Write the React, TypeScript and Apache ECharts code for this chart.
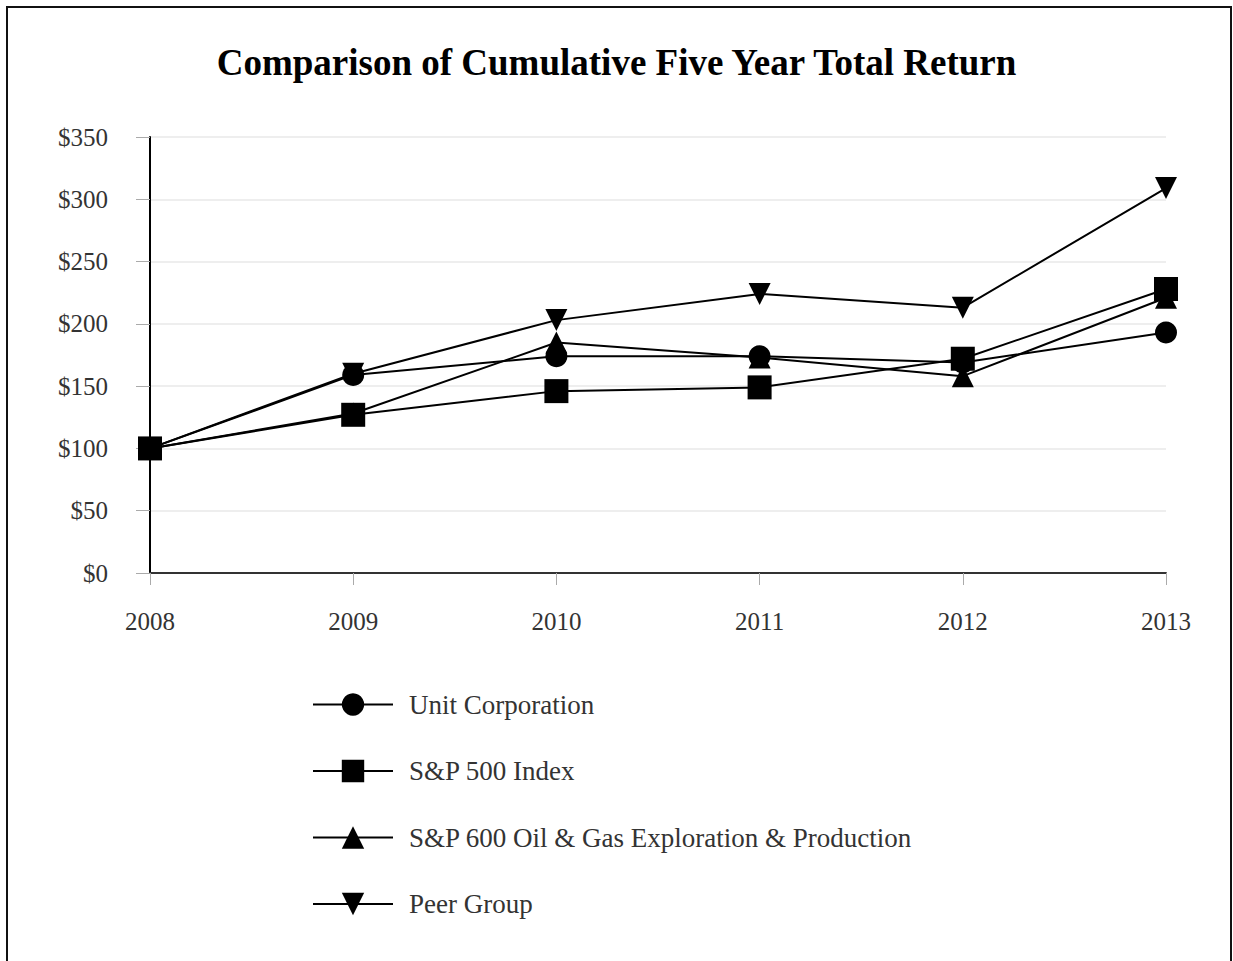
import React, { useEffect, useRef } from "react";
import * as echarts from "echarts";

const years = ["2008", "2009", "2010", "2011", "2012", "2013"];
const unitCorp = [100, 159, 174, 174, 169, 193];
const sp500 = [100, 127, 146, 149, 172, 228];
const sp600 = [100, 128, 185, 173, 158, 221];
const peerGroup = [100, 160, 203, 224, 213, 309];
const seriesNames = [
  "Unit Corporation",
  "S&P 500 Index",
  "S&P 600 Oil & Gas Exploration & Production",
  "Peer Group",
];

const SERIF = "'Liberation Serif', 'Times New Roman', serif";

export default function App() {
  const ref = useRef<HTMLDivElement>(null);
  useEffect(() => {
    if (!ref.current) return;
    const chart = echarts.init(ref.current, null, { renderer: "svg" });
    const lineStyle = { color: "#000", width: 2 };
    const mk = (name: string, data: number[], symbol: string, size: number, rotate = 0) => ({
      name,
      type: "line",
      data,
      symbol,
      symbolSize: size,
      symbolRotate: rotate,
      showAllSymbol: true,
      lineStyle,
      itemStyle: { color: "#000", borderWidth: 0 },
      z: 3,
    });
    chart.setOption({
      animation: false,
      backgroundColor: "#fff",
      title: {
        text: "Comparison of Cumulative Five Year Total Return",
        left: "center",
        top: 39,
        textStyle: { fontFamily: SERIF, fontWeight: "bold", fontSize: 37, color: "#000" },
      },
      graphic: [
        {
          type: "polyline",
          shape: { points: [[7, 970], [7, 7], [1231, 7], [1231, 970]] },
          style: { stroke: "#111", lineWidth: 2, fill: "none" },
          silent: true,
          z: 10,
        },
      ],
      legend: {
        orient: "vertical",
        left: 307,
        top: 686,
        itemWidth: 80,
        itemHeight: 28,
        itemGap: 39.5,
        data: seriesNames,
        textStyle: { fontFamily: SERIF, fontSize: 27, color: "#333", padding: [0, 0, 0, 11] },
      },
      grid: { left: 150, right: 67, top: 137, bottom: 388, containLabel: false },
      xAxis: {
        type: "category",
        data: years,
        boundaryGap: false,
        axisLine: { lineStyle: { color: "#333", width: 2 } },
        axisTick: { show: true, length: 12, lineStyle: { color: "#aaa" } },
        axisLabel: { fontFamily: SERIF, fontSize: 25, color: "#333", margin: 36 },
      },
      yAxis: {
        type: "value",
        min: 0,
        max: 350,
        interval: 50,
        axisLine: { show: true, lineStyle: { color: "#000", width: 2 } },
        axisTick: { show: true, length: 14, lineStyle: { color: "#aaa" } },
        splitLine: { lineStyle: { color: "#e8e8e8", width: 1.5 } },
        axisLabel: {
          fontFamily: SERIF,
          fontSize: 25,
          color: "#333",
          margin: 42,
          formatter: (v: number) => "$" + v,
        },
      },
      series: [
        mk(seriesNames[0], unitCorp, "circle", 22),
        mk(seriesNames[1], sp500, "rect", 24),
        mk(seriesNames[2], sp600, "triangle", 22),
        mk(seriesNames[3], peerGroup, "triangle", 22, 180),
      ],
    });
    return () => chart.dispose();
  }, []);
  return <div ref={ref} style={{ width: 1233, height: 961, position: "absolute", left: 0, top: 0 }} />;
}
